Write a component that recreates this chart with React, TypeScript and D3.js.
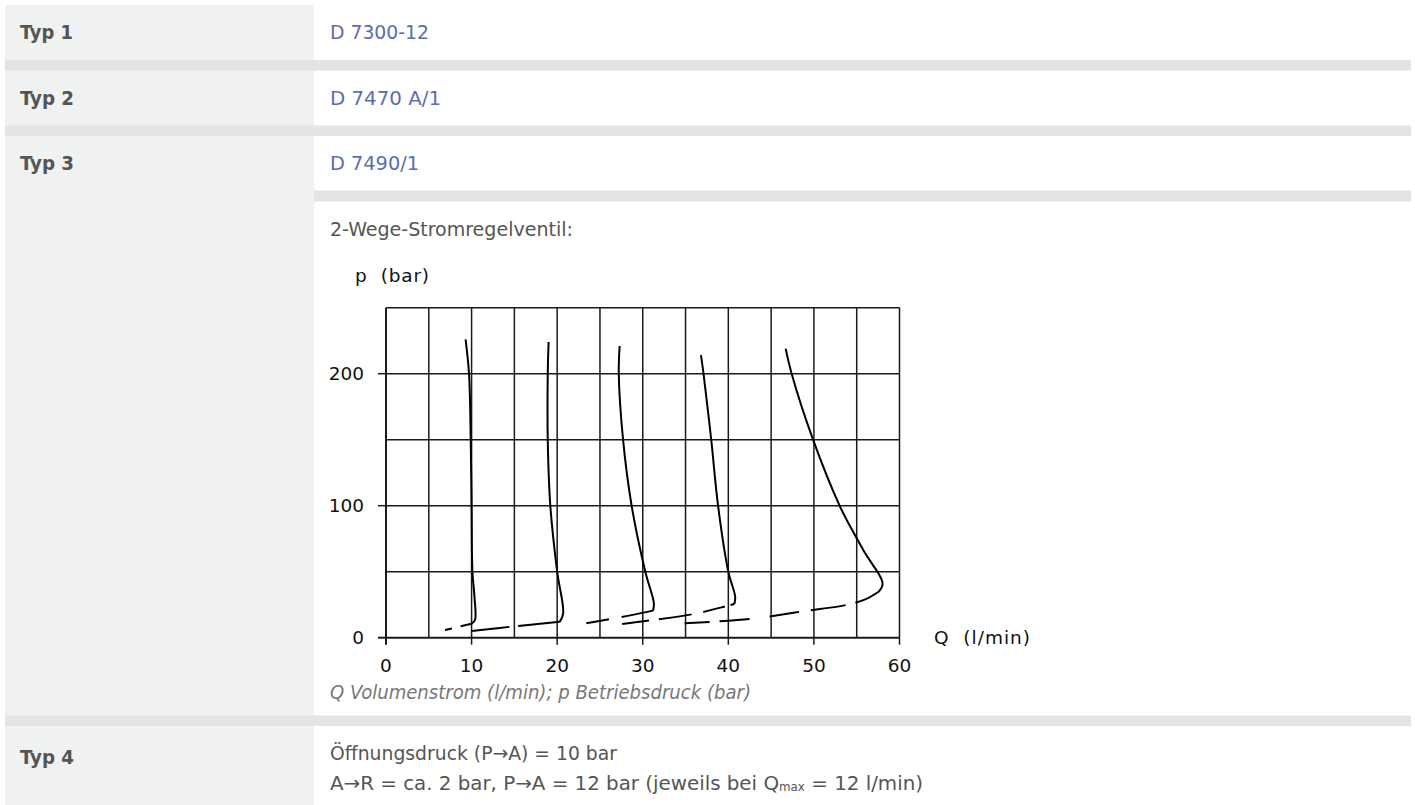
import React from "react";
import * as d3 from "d3";

const W = 1415;
const H = 805;

// table texts
const rowLabels = ["Typ 1", "Typ 2", "Typ 3", "Typ 4"];
const rowValues = ["D 7300-12", "D 7470 A/1", "D 7490/1"];
const chartTitle = "2-Wege-Stromregelventil:";
const caption = "Q Volumenstrom (l/min); p Betriebsdruck (bar)";
const typ4Line1 = "Öffnungsdruck (P→A) = 10 bar";

// chart axes
const xTicks = [0, 10, 20, 30, 40, 50, 60];
const yTicks = [0, 100, 200];
const xGrid = d3.range(0, 61, 5);
const yGrid = d3.range(0, 251, 50);

// curves: [Q (l/min), p (bar)]
const curve1Lower: [number, number][] = [[6.9, 5.8], [10.0, 10.6]];
const curve1Upper: [number, number][] = [[10.0, 10.6], [10.4, 13.5], [10.35, 30], [10.1, 50], [10.0, 100], [9.9, 150], [9.7, 200], [9.3, 226]];
const curve2Lower: [number, number][] = [[10.0, 5.0], [15.0, 8.6], [20.3, 12.0]];
const curve2Upper: [number, number][] = [[20.3, 12.0], [20.7, 18.5], [20.0, 50], [19.2, 100], [18.9, 150], [18.9, 200], [19.0, 224]];
const curve3Lower: [number, number][] = [[23.4, 11.0], [27.4, 15.5], [31.2, 20.5]];
const curve3Upper: [number, number][] = [[31.2, 20.5], [31.3, 26], [30.3, 50], [28.7, 100], [27.7, 150], [27.2, 200], [27.3, 221]];
const curve4Lower: [number, number][] = [[27.6, 10.4], [30.8, 13.0], [35.9, 17.9], [39.8, 24.0], [40.7, 25.5]];
const curve4Upper: [number, number][] = [[40.7, 25.5], [40.8, 31], [40.0, 50], [38.8, 100], [38.0, 150], [37.1, 200], [36.8, 214]];
const curve5Lower: [number, number][] = [[34.9, 10.9], [42.5, 14.2], [48.4, 19.7], [53.8, 24.8], [56.0, 29.0], [57.6, 35.0]];
const curve5Upper: [number, number][] = [[57.6, 35.0], [57.95, 38.5], [58.0, 42], [57.6, 48], [56.9, 55], [55.9, 65], [54.6, 80], [53.0, 100], [49.9, 150], [47.4, 200], [46.7, 219]];

const lowerCurves = [curve1Lower, curve2Lower, curve3Lower, curve4Lower, curve5Lower];
const upperCurves = [curve1Upper, curve2Upper, curve3Upper, curve4Upper, curve5Upper];
const lowerDashes = ["7,9,30", "38,9,200", "23,13,200", "27,10,33,12,22,6,200", "25,10,30,20,30,12,35,10,200"];

const condensed = "'Liberation Sans Narrow','DejaVu Sans Condensed','Roboto Condensed','Open Sans',sans-serif";
const chartFont = "'DejaVu Sans', Verdana, sans-serif";

export default function App() {
  const x = d3.scaleLinear().domain([0, 60]).range([386, 899.5]);
  const y = d3.scaleLinear().domain([0, 250]).range([637.7, 307.7]);
  const line = d3
    .line<[number, number]>()
    .x((d) => x(d[0]))
    .y((d) => y(d[1]))
    .curve(d3.curveCatmullRom.alpha(0.5));

  const gray = "#f0f1f1";
  const sep = "#e3e4e5";
  const txt = "#555555";
  const blue = "#5a6db3";
  const fs = 20;

  return (
    <svg
      width={W}
      height={H}
      style={{ position: "absolute", left: 0, top: 0, display: "block", background: "#fff" }}
    >
      {/* table background */}
      <rect x={5} y={5} width={309} height={H - 5} fill={gray} />
      <rect x={5} y={60} width={1406} height={10.5} fill={sep} />
      <rect x={5} y={125.5} width={1406} height={10.5} fill={sep} />
      <rect x={314} y={190.5} width={1097} height={11} fill={sep} />
      <rect x={5} y={715.5} width={1406} height={10.5} fill={sep} />

      {/* row labels */}
      {[32, 98, 163, 757].map((cy, i) => (
        <text
          key={rowLabels[i]}
          x={20}
          y={cy}
          dominantBaseline="central"
          fontFamily={condensed}
          fontWeight="bold"
          fontSize={fs}
          fill={txt}
          textLength={i === 0 ? 53 : 54}
          lengthAdjust="spacingAndGlyphs"
        >
          {rowLabels[i]}
        </text>
      ))}
      {[32, 98, 163].map((cy, i) => (
        <text
          key={rowValues[i]}
          x={330}
          y={cy}
          dominantBaseline="central"
          fontFamily={condensed}
          fontSize={fs}
          fill={blue}
          textLength={[99, 111, 89][i]}
          lengthAdjust="spacingAndGlyphs"
        >
          {rowValues[i]}
        </text>
      ))}
      <text x={330} y={229} dominantBaseline="central" fontFamily={condensed} fontSize={fs} fill={txt} textLength={243} lengthAdjust="spacingAndGlyphs">
        {chartTitle}
      </text>
      <text x={330} y={692} dominantBaseline="central" fontFamily={condensed} fontStyle="italic" fontSize={fs} fill="#777" textLength={421} lengthAdjust="spacingAndGlyphs">
        {caption}
      </text>
      <text x={330} y={753} dominantBaseline="central" fontFamily={condensed} fontSize={fs} fill={txt} textLength={287} lengthAdjust="spacingAndGlyphs">
        {typ4Line1}
      </text>
      <text x={330} y={783} dominantBaseline="central" fontFamily={condensed} fontSize={fs} fill={txt} textLength={593} lengthAdjust="spacingAndGlyphs">
        {"A→R = ca. 2 bar, P→A = 12 bar (jeweils bei Q"}
        <tspan fontSize={12} dy={4}>max</tspan>
        <tspan dy={-4}>{" = 12 l/min)"}</tspan>
      </text>

      {/* chart grid */}
      {xGrid.map((v) => (
        <line key={"vx" + v} x1={x(v)} x2={x(v)} y1={y(0)} y2={y(250)} stroke="#1a1a1a" strokeWidth={v === 0 ? 2 : 1.5} />
      ))}
      {yGrid.map((v) => (
        <line key={"hy" + v} x1={x(0)} x2={x(60)} y1={y(v)} y2={y(v)} stroke="#1a1a1a" strokeWidth={v === 0 ? 2 : 1.5} />
      ))}
      {yTicks.map((v) => (
        <g key={"yt" + v}>
          <line x1={x(0) - 8} x2={x(0)} y1={y(v)} y2={y(v)} stroke="#1a1a1a" strokeWidth={v === 0 ? 2 : 1.5} />
          <text x={364} y={y(v)} textAnchor="end" dominantBaseline="central" fontFamily={chartFont} fontSize={18.5} fill="#111">
            {v}
          </text>
        </g>
      ))}
      {xTicks.map((v) => (
        <g key={"xt" + v}>
          <line x1={x(v)} x2={x(v)} y1={y(0)} y2={y(0) + 7} stroke="#1a1a1a" strokeWidth={v === 0 ? 2 : 1.5} />
          <text x={x(v)} y={665} textAnchor="middle" dominantBaseline="central" fontFamily={chartFont} fontSize={18.5} fill="#111">
            {v}
          </text>
        </g>
      ))}
      <text x={355} y={275} dominantBaseline="central" fontFamily={chartFont} fontSize={18.5} fill="#111" style={{ whiteSpace: "pre" }} textLength={74} lengthAdjust="spacing">
        {"p  (bar)"}
      </text>
      <text x={934} y={637} dominantBaseline="central" fontFamily={chartFont} fontSize={18.5} fill="#111" style={{ whiteSpace: "pre" }} textLength={96} lengthAdjust="spacing">
        {"Q  (l/min)"}
      </text>

      {/* curves */}
      {lowerCurves.map((c, i) => (
        <path key={"lc" + i} d={line(c) || ""} fill="none" stroke="#000" strokeWidth={2} strokeDasharray={lowerDashes[i]} />
      ))}
      {upperCurves.map((c, i) => (
        <path key={"uc" + i} d={line(c) || ""} fill="none" stroke="#000" strokeWidth={2} />
      ))}
    </svg>
  );
}
